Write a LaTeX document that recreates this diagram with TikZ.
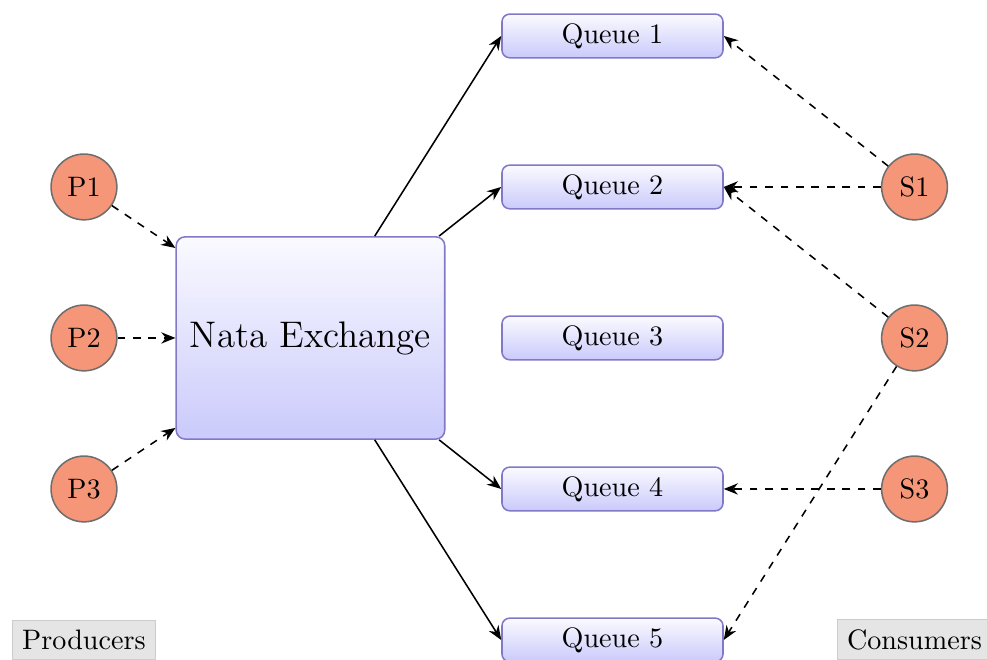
\documentclass[tikz,border=0pt]{standalone}
\usepackage{tikz}
\usetikzlibrary{positioning, arrows.meta, shadings}
\definecolor{peerFill}{RGB}{245,150,120}
\definecolor{peerDraw}{RGB}{110,110,110}
\definecolor{qDraw}{RGB}{130,120,200}
\definecolor{qTop}{RGB}{250,250,255}
\definecolor{qBot}{RGB}{202,202,252}
\tikzset{
  every node/.style={font=\fontsize{10.95}{13}\selectfont},
  arr/.style={-{Stealth[length=5.5pt,width=4.4pt]}, semithick},
  arrd/.style={-{Stealth[length=5.5pt,width=4.4pt]}, semithick, dashed},
  peer/.style={draw=peerDraw, fill=peerFill, circle, semithick, minimum size=25.6pt, inner sep=0pt},
  queue/.style={draw=qDraw, semithick, rounded corners=3pt, top color=qTop, bottom color=qBot,
                minimum width=86pt, minimum height=17pt, inner sep=0pt},
  exch/.style={draw=qDraw, semithick, rounded corners=3.5pt, top color=qTop, bottom color=qBot,
               minimum width=104.5pt, minimum height=78.7pt, inner sep=0pt,
               font=\fontsize{14.4}{17}\selectfont},
  tag/.style={draw=black!20, fill=black!10, inner sep=3.8pt},
}

\begin{document}
\begin{tikzpicture}[x=2.065cm, y=2.065cm]
  \useasboundingbox (-0.556,-0.1325) rectangle (5.980,4.238);
  % producers
  \foreach \i/\y in {1/3, 2/2, 3/1}
    \node[peer] (p\i) at (0,\y) {P\i};
  % the exchange
  \node[exch] (ex) at (1.5,2) {Nata Exchange};
  % queues
  \foreach \i/\y in {1/4, 2/3, 3/2, 4/1, 5/0}
    \node[queue] (q\i) at (3.5,\y) {Queue \i};
  % consumers
  \foreach \i/\y in {1/3, 2/2, 3/1}
    \node[peer] (s\i) at (5.5,\y) {S\i};
  \node[tag] (prod) at (0,0) {Producers};
  \node[tag] (cons) at (5.5,0) {Consumers};
  % publish
  \foreach \i in {1,2,3}
    \draw[arrd] (p\i) -- (ex);
  % routing
  \foreach \i in {1,2,4,5}
    \draw[arr] (ex) -- (q\i.west);
  % subscriptions
  \draw[arrd] (s1) -- (q1.east);
  \draw[arrd] (s1) -- (q2.east);
  \draw[arrd] (s2) -- (q2.east);
  \draw[arrd] (s2) -- (q5.east);
  \draw[arrd] (s3) -- (q4.east);
\end{tikzpicture}
\end{document}
